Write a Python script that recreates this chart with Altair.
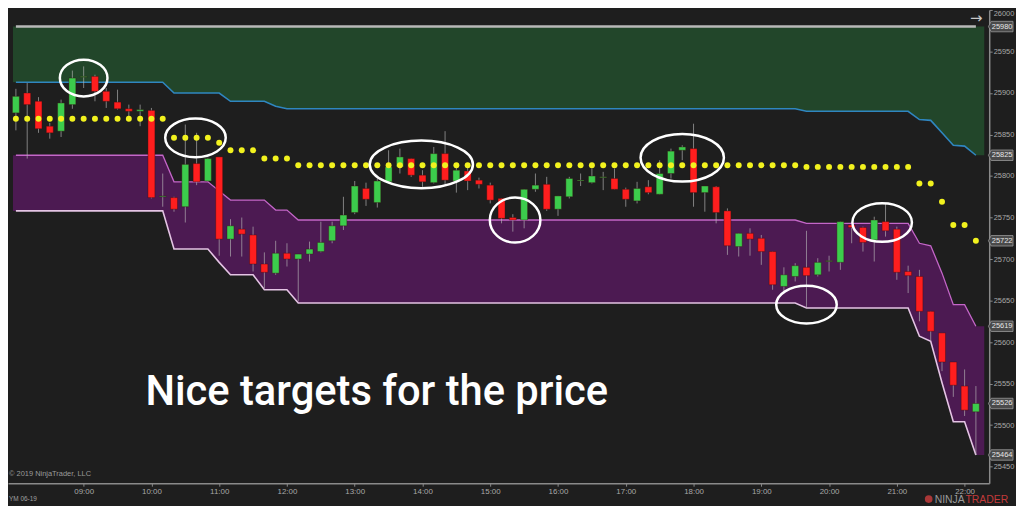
import altair as alt
import pandas as pd

# ------------------------------------------------------------------ data
DAY = "2019-06-05"

opens = [25876, 25900, 25890, 25860, 25854, 25886, 25919, 25920, 25902, 25889,
         25881, 25878, 25879, 25775, 25774, 25763, 25815, 25794, 25823, 25724,
         25736, 25729, 25694, 25683, 25707, 25700, 25706, 25709, 25722, 25740,
         25756, 25785, 25768, 25793, 25811, 25821, 25801, 25792, 25827, 25794,
         25806, 25795, 25789, 25773, 25750, 25747, 25784, 25790, 25760, 25775,
         25794, 25792, 25798, 25797, 25784, 25770, 25787, 25778, 25803, 25831,
         25833, 25780, 25787, 25758, 25715, 25731, 25725, 25709, 25667, 25679,
         25690, 25681, 25697, 25696, 25741, 25738, 25723, 25745, 25736, 25685,
         25679, 25637, 25611, 25576, 25547, 25516]
highs = [25905, 25912, 25895, 25864, 25892, 25927, 25932, 25922, 25906, 25904,
         25886, 25886, 25882, 25803, 25775, 25862, 25852, 25822, 25823, 25748,
         25750, 25739, 25708, 25722, 25719, 25706, 25721, 25745, 25745, 25775,
         25794, 25792, 25797, 25831, 25833, 25821, 25807, 25835, 25854, 25811,
         25813, 25798, 25792, 25773, 25754, 25784, 25803, 25799, 25776, 25799,
         25803, 25809, 25805, 25809, 25786, 25793, 25795, 25819, 25833, 25837,
         25863, 25788, 25788, 25761, 25731, 25737, 25729, 25709, 25690, 25695,
         25734, 25701, 25704, 25745, 25741, 25739, 25751, 25767, 25739, 25692,
         25687, 25637, 25611, 25576, 25567, 25547]
lows = [25855, 25821, 25852, 25845, 25847, 25881, 25906, 25890, 25882, 25880,
        25872, 25860, 25773, 25763, 25757, 25744, 25789, 25793, 25704, 25703,
        25703, 25685, 25665, 25681, 25691, 25649, 25697, 25708, 25719, 25735,
        25754, 25764, 25762, 25791, 25803, 25799, 25787, 25791, 25790, 25780,
        25783, 25785, 25767, 25743, 25733, 25737, 25781, 25758, 25752, 25773,
        25788, 25791, 25783, 25784, 25763, 25767, 25778, 25778, 25797, 25819,
        25763, 25757, 25743, 25705, 25703, 25704, 25693, 25663, 25661, 25673,
        25641, 25679, 25685, 25687, 25719, 25709, 25697, 25727, 25675, 25659,
        25625, 25601, 25565, 25534, 25511, 25464]
closes = [25896, 25886, 25857, 25852, 25888, 25918, 25920, 25902, 25890, 25881,
          25878, 25880, 25774, 25776, 25760, 25814, 25793, 25821, 25724, 25740,
          25730, 25694, 25684, 25707, 25700, 25706, 25712, 25720, 25740, 25753,
          25788, 25772, 25794, 25811, 25823, 25801, 25793, 25827, 25795, 25807,
          25794, 25790, 25771, 25749, 25747, 25784, 25789, 25760, 25776, 25797,
          25795, 25800, 25799, 25784, 25772, 25785, 25780, 25803, 25830, 25835,
          25780, 25788, 25756, 25716, 25731, 25724, 25709, 25669, 25681, 25692,
          25680, 25696, 25698, 25745, 25738, 25720, 25747, 25734, 25684, 25680,
          25637, 25613, 25576, 25548, 25518, 25526]

top_line = [25980, 25980, 25980, 25980, 25980, 25980, 25980, 25980, 25980, 25980,
            25980, 25980, 25980, 25980, 25980, 25980, 25980, 25980, 25980, 25980,
            25980, 25980, 25980, 25980, 25980, 25980, 25980, 25980, 25980, 25980,
            25980, 25980, 25980, 25980, 25980, 25980, 25980, 25980, 25980, 25980,
            25980, 25980, 25980, 25980, 25980, 25980, 25980, 25980, 25980, 25980,
            25980, 25980, 25980, 25980, 25980, 25980, 25980, 25980, 25980, 25980,
            25980, 25980, 25980, 25980, 25980, 25980, 25980, 25980, 25980, 25980,
            25980, 25980, 25980, 25980, 25980, 25980, 25980, 25980, 25980, 25980,
            25980, 25980, 25980, 25980, 25980, 25980]
blue_line = [25913, 25913, 25913, 25913, 25913, 25913, 25913, 25913, 25913, 25913,
             25913, 25913, 25913, 25913, 25900, 25900, 25900, 25900, 25900, 25890,
             25890, 25890, 25890, 25884, 25881, 25881, 25881, 25881, 25881, 25881,
             25881, 25881, 25881, 25881, 25881, 25881, 25881, 25881, 25881, 25881,
             25881, 25881, 25881, 25881, 25881, 25881, 25881, 25881, 25881, 25881,
             25881, 25881, 25881, 25881, 25881, 25881, 25881, 25881, 25881, 25881,
             25881, 25881, 25881, 25881, 25881, 25881, 25881, 25881, 25881, 25881,
             25878, 25878, 25878, 25878, 25878, 25878, 25878, 25878, 25878, 25878,
             25868, 25867, 25852, 25837, 25836, 25825]
purple_upper = [25825, 25825, 25825, 25825, 25825, 25825, 25825, 25825, 25825, 25825,
                25825, 25825, 25825, 25825, 25793, 25793, 25793, 25793, 25782, 25771,
                25771, 25771, 25771, 25759, 25759, 25747, 25747, 25747, 25747, 25747,
                25747, 25747, 25747, 25747, 25747, 25747, 25747, 25747, 25747, 25747,
                25747, 25747, 25747, 25747, 25747, 25747, 25747, 25747, 25747, 25747,
                25747, 25747, 25747, 25747, 25747, 25747, 25747, 25747, 25747, 25747,
                25747, 25747, 25747, 25747, 25747, 25747, 25747, 25747, 25747, 25747,
                25743, 25743, 25743, 25743, 25743, 25743, 25743, 25743, 25743, 25743,
                25719, 25716, 25683, 25645, 25645, 25619]
purple_lower = [25758, 25758, 25758, 25758, 25758, 25758, 25758, 25758, 25758, 25758,
                25758, 25758, 25758, 25758, 25712, 25712, 25712, 25712, 25696, 25681,
                25681, 25681, 25663, 25663, 25663, 25647, 25647, 25647, 25647, 25647,
                25647, 25647, 25647, 25647, 25647, 25647, 25647, 25647, 25647, 25647,
                25647, 25647, 25647, 25647, 25647, 25647, 25647, 25647, 25647, 25647,
                25647, 25647, 25647, 25647, 25647, 25647, 25647, 25647, 25647, 25647,
                25647, 25647, 25647, 25647, 25647, 25647, 25647, 25647, 25647, 25647,
                25641, 25641, 25641, 25641, 25641, 25641, 25641, 25641, 25641, 25641,
                25607, 25601, 25551, 25504, 25504, 25464]
dots = [25869, 25869, 25869, 25869, 25869, 25869, 25869, 25869, 25869, 25869,
        25869, 25869, 25869, 25869, 25846, 25846, 25846, 25846, 25840, 25831,
        25831, 25831, 25821, 25821, 25821, 25813, 25813, 25813, 25813, 25813,
        25813, 25813, 25813, 25813, 25813, 25813, 25813, 25813, 25813, 25813,
        25813, 25813, 25813, 25813, 25813, 25813, 25813, 25813, 25813, 25813,
        25813, 25813, 25813, 25813, 25813, 25813, 25813, 25813, 25813, 25813,
        25813, 25813, 25813, 25813, 25813, 25813, 25813, 25813, 25813, 25813,
        25811, 25811, 25811, 25811, 25811, 25811, 25811, 25811, 25811, 25811,
        25791, 25791, 25769, 25741, 25741, 25722]

y_ticks = [25450, 25500, 25550, 25600, 25650, 25700, 25750, 25800, 25850, 25900, 25950, 26000]
x_tick_hours = [9, 10, 11, 12, 13, 14, 15, 16, 17, 18, 19, 20, 21, 22]

target_times = ["09:00", "10:39", "13:59", "15:22", "17:50", "19:40", "20:47"]
target_prices = [25918, 25846, 25814, 25747, 25822, 25645, 25744]

caption = "Nice targets for the price"
copyright_txt = "\u00a9 2019 NinjaTrader, LLC"
instrument_txt = "YM 06-19"

for s in (opens, highs, lows, closes, top_line, blue_line, purple_upper, purple_lower, dots):
    assert len(s) == 86, len(s)

# ------------------------------------------------------------------ styles
BG = "#1e1e1e"
GREEN_FILL = "#22462a"
PURPLE_FILL = "#4c1a52"
UP = "#3ccc4c"
DOWN = "#ff1e1e"
ELLIPSE_R = [(24, 18.5), (30.5, 19.5), (52, 24), (25.5, 22.7), (42, 24), (30.5, 19), (30, 19.5)]
W, H = 989, 477

# ------------------------------------------------------------------ frames
times = pd.date_range(f"{DAY} 08:00", periods=len(closes), freq="10min")
candles = pd.DataFrame({"t": times, "open": opens, "high": highs, "low": lows, "close": closes})
candles["dir"] = ["up" if c >= o else "down" for o, c in zip(opens, closes)]

lines = pd.DataFrame({"t": times, "top": top_line, "blue": blue_line,
                      "pu": purple_upper, "pl": purple_lower, "dot": dots})

x_start = pd.Timestamp(f"{DAY} 07:57:24")
x_end = pd.Timestamp(f"{DAY} 22:17:24")
bands = pd.DataFrame({
    "t": [x_start] + list(times) + [x_end],
    "top": [top_line[0]] + top_line + [top_line[-1]],
    "blue": [blue_line[0]] + blue_line + [blue_line[-1]],
    "pu": [purple_upper[0]] + purple_upper + [purple_upper[-1]],
    "pl": [purple_lower[0]] + purple_lower + [purple_lower[-1]],
})

def dt(h, m=0, s=0):
    return alt.DateTime(year=2019, month=6, date=5, hours=h, minutes=m, seconds=s)

x_scale = alt.Scale(domain=[dt(7, 57, 24), dt(22, 17, 24)], nice=False)
y_scale = alt.Scale(domain=[25430, 26000], nice=False, zero=False)

x_axis = alt.Axis(values=[dt(h) for h in x_tick_hours], format="%H:%M", title=None,
                  labelColor="#a8a8a8", labelFontSize=8, labelFont="Liberation Sans",
                  tickColor="#8a8a8a", tickSize=3, domainColor="#8a8a8a", domainWidth=1.5,
                  labelPadding=1, grid=False, labelFlush=False)
y_axis = alt.Axis(orient="right", values=y_ticks, format="d", title=None,
                  labelColor="#a8a8a8", labelFontSize=7.5, labelFont="Liberation Sans",
                  tickColor="#8a8a8a", tickSize=3, domainColor="#8a8a8a", domainWidth=1.5,
                  labelPadding=1, grid=False, labelFlush=False,
                  labelBaseline={"condition": {"test": "datum.value >= 26000", "value": "top"},
                                 "value": "middle"})

def X(field="t"):
    return alt.X(f"{field}:T", scale=x_scale, axis=x_axis)

def Y(field):
    return alt.Y(f"{field}:Q", scale=y_scale, axis=y_axis)

layers = []
layers.append(alt.Chart(bands).mark_area(color=GREEN_FILL, opacity=1).encode(
    x=X(), y=Y("top"), y2="blue:Q"))
layers.append(alt.Chart(bands).mark_area(color=PURPLE_FILL, opacity=1).encode(
    x=X(), y=Y("pu"), y2="pl:Q"))
layers.append(alt.Chart(lines).mark_line(color="#b8b8b8", strokeWidth=2.5).encode(x=X(), y=Y("top")))
layers.append(alt.Chart(lines).mark_line(color="#2f86c0", strokeWidth=1.6).encode(x=X(), y=Y("blue")))
layers.append(alt.Chart(lines).mark_line(color="#c466c8", strokeWidth=1.3).encode(x=X(), y=Y("pu")))
layers.append(alt.Chart(lines).mark_line(color="#e4c4e4", strokeWidth=1.6).encode(x=X(), y=Y("pl")))

layers.append(alt.Chart(candles).mark_rule(color="#b8b8b8", opacity=0.65, strokeWidth=1).encode(
    x=X(), y=Y("low"), y2="high:Q"))
layers.append(alt.Chart(candles).mark_bar(size=7, stroke="#3a1010", strokeWidth=0.4).encode(
    x=X(), y=Y("open"), y2="close:Q",
    color=alt.Color("dir:N", scale=alt.Scale(domain=["up", "down"], range=[UP, DOWN]), legend=None)))

layers.append(alt.Chart(lines).mark_circle(size=36, color="#f2f21e", opacity=1).encode(x=X(), y=Y("dot")))

for tt, pp, (rx, ry) in zip(target_times, target_prices, ELLIPSE_R):
    r = ry / rx
    path = f"M -1 0 A 1 {r:.4f} 0 1 1 1 0 A 1 {r:.4f} 0 1 1 -1 0 Z"
    df = pd.DataFrame({"t": [pd.Timestamp(f"{DAY} {tt}")], "v": [pp]})
    layers.append(alt.Chart(df).mark_point(shape=path, size=4 * rx * rx, filled=False,
                                           stroke="white", strokeWidth=2.5, opacity=1).encode(
        x=X(), y=Y("v")))

one = pd.DataFrame({"a": [0]})
layers.append(alt.Chart(one).mark_text(text=caption, font="Roboto", fontSize=42, fontWeight=500,
                                       color="#ffffff", align="left", baseline="alphabetic").encode(
    x=alt.value(138.5), y=alt.value(398.5)))
layers.append(alt.Chart(one).mark_text(text=copyright_txt, font="Liberation Sans", fontSize=7.5,
                                       color="#9a9a9a", align="left", baseline="middle").encode(
    x=alt.value(1), y=alt.value(468)))
layers.append(alt.Chart(one).mark_text(text=instrument_txt, font="Liberation Sans", fontSize=6.5,
                                       color="#a0a0a0", align="left", baseline="middle").encode(
    x=alt.value(1), y=alt.value(493)))
layers.append(alt.Chart(one).mark_text(text="\u2192", font="DejaVu Sans", fontSize=15,
                                       color="#c8c8c8", align="center", baseline="middle").encode(
    x=alt.value(976), y=alt.value(8)))
layers.append(alt.Chart(one).mark_point(shape="circle", size=60, filled=True, color="#b83a3a",
                                        opacity=0.9).encode(x=alt.value(928), y=alt.value(493)))
layers.append(alt.Chart(one).mark_text(text="NINJA", font="Liberation Sans", fontSize=10.5,
                                       color="#9a9a9a", align="left", baseline="alphabetic").encode(
    x=alt.value(934), y=alt.value(497)))
layers.append(alt.Chart(one).mark_text(text="TRADER", font="Liberation Sans", fontSize=10.5,
                                       color="#c23a3a", align="left", baseline="alphabetic").encode(
    x=alt.value(965), y=alt.value(497)))

# price flags on the right axis: last value of each series
flag_vals = [top_line[-1], blue_line[-1], dots[-1], purple_upper[-1], closes[-1], purple_lower[-1]]
flags = pd.DataFrame({"v": flag_vals, "label": [str(v) for v in flag_vals]})
flag_path = "M -1.25 0 L -1 -0.48 L 1 -0.48 L 1 0.48 L -1 0.48 Z"
layers.append(alt.Chart(flags).mark_point(shape=flag_path, size=4 * 11 * 11, filled=True,
                                          fill="#4a4a4a", stroke="#9a9a9a", strokeWidth=0.8,
                                          opacity=1).encode(x=alt.value(1002), y=Y("v")))
layers.append(alt.Chart(flags).mark_text(font="Liberation Sans", fontSize=7.5, color="#e6e6e6",
                                         align="center", baseline="middle").encode(
    x=alt.value(1002), y=Y("v"), text="label:N"))

chart = alt.layer(*layers).properties(
    width=W, height=H, background=BG,
    padding={"left": 0, "top": 0, "right": 27, "bottom": 21},
    autosize=alt.AutoSizeParams(type="none"),
).configure_view(stroke=None)

chart.save("out.html", embed_options={"renderer": "svg", "actions": False})
